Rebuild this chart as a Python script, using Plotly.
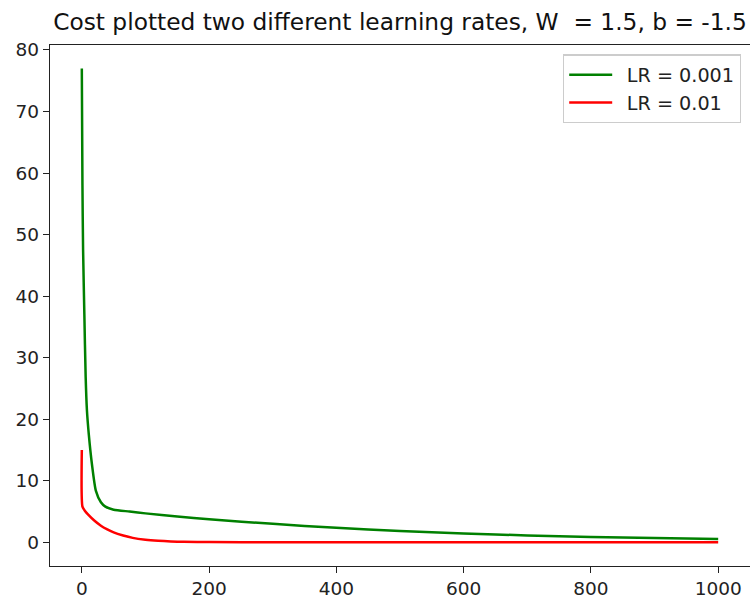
import plotly.graph_objects as go

# Values
lr001_iter = [0, 1, 2, 4, 6, 8, 11, 16, 22, 30, 37, 50, 75, 100, 150, 200, 300, 400, 500, 600, 700, 800, 900, 1000]
lr001_cost = [77.0, 58.0, 47.5, 37.0, 27.0, 21.5, 17.5, 12.6, 8.4, 6.5, 5.8, 5.3, 5.0, 4.7, 4.2, 3.75, 3.0, 2.35, 1.85, 1.45, 1.12, 0.88, 0.68, 0.52]

lr01_iter = [0, 1, 5, 10, 20, 30, 40, 50, 65, 80, 100, 120, 140, 160, 200, 300, 400, 500, 600, 700, 800, 900, 1000]
lr01_cost = [15.0, 5.8, 5.1, 4.5, 3.5, 2.7, 2.1, 1.6, 1.1, 0.72, 0.42, 0.24, 0.13, 0.07, 0.03, 0.01, 0.01, 0.01, 0.01, 0.01, 0.01, 0.01, 0.01]

series_names = ["LR = 0.001", "LR = 0.01"]
x_ticks = [0, 200, 400, 600, 800, 1000]
y_ticks = [0, 10, 20, 30, 40, 50, 60, 70, 80]

title_text = "Cost plotted two different learning rates, W\u00a0 = 1.5, b = -1.5"

fig = go.Figure()
fig.add_trace(go.Scatter(x=lr001_iter, y=lr001_cost, mode="lines", name="\u2002" + series_names[0],
                         line=dict(color="green", width=2.5, shape="spline", smoothing=0.6)))
fig.add_trace(go.Scatter(x=lr01_iter, y=lr01_cost, mode="lines", name="\u2002" + series_names[1],
                         line=dict(color="red", width=2.5, shape="spline", smoothing=0.6)))

font_family = "DejaVu Sans"
fig.update_layout(
    width=750, height=601,
    margin=dict(l=50, r=0, t=44.5, b=35),
    paper_bgcolor="white", plot_bgcolor="white",
    font=dict(family=font_family, size=18.5, color="#222222"),
    title=dict(text=title_text, x=400/750, xanchor="center", y=1 - 22/601, yanchor="middle",
               font=dict(family=font_family, size=23.3, color="#111111")),
    legend=dict(x=0.987, y=0.982, xanchor="right", yanchor="top",
                bgcolor="rgba(255,255,255,0.8)", bordercolor="#cccccc", borderwidth=1.3,
                font=dict(family=font_family, size=19.2, color="#222222"),
                itemwidth=43, tracegroupgap=0),
    showlegend=True,
)
fig.update_xaxes(range=[-50, 1050], tickvals=x_ticks, ticks="outside", ticklen=6, tickwidth=1.3,
                 tickcolor="#222222", showline=True, linecolor="#222222", linewidth=1.3, mirror=True,
                 showgrid=False, zeroline=False)
fig.update_yaxes(range=[-3.85, 80.8], tickvals=y_ticks, ticks="outside", ticklen=6, tickwidth=1.3,
                 tickcolor="#222222", showline=True, linecolor="#222222", linewidth=1.3, mirror=True,
                 showgrid=False, zeroline=False)

fig.write_html("out.html")
